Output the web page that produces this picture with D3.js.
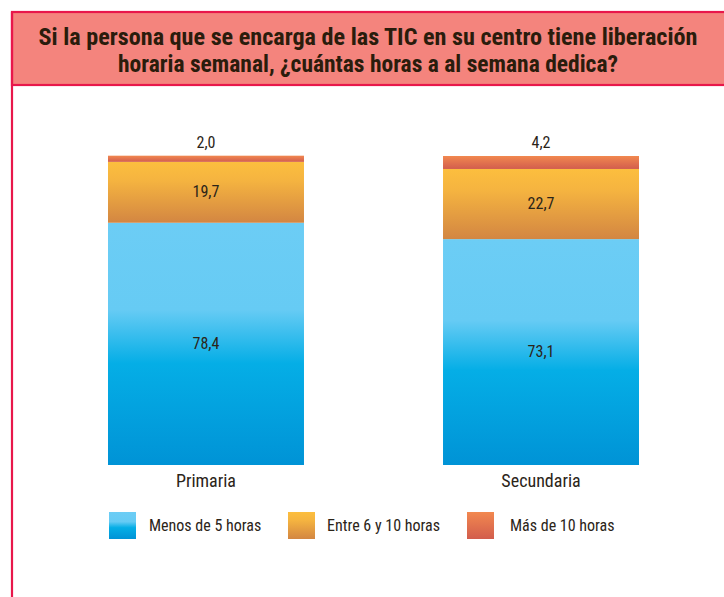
<!DOCTYPE html>
<html>
<head>
<meta charset="utf-8">
<script src="https://cdn.jsdelivr.net/npm/d3@7"></script>
<style>
  body { margin: 0; background: #fff; }
  svg text { font-family: "Liberation Sans Narrow", "Roboto Condensed", "DejaVu Sans Condensed", sans-serif; fill: #2b2418; }
</style>
</head>
<body>
<div id="grafico"></div>
<script>
// Datos
const niveles = ["Primaria", "Secundaria"];
const series = ["Menos de 5 horas", "Entre 6 y 10 horas", "Más de 10 horas"];
const menos5 = [78.4, 73.1];
const entre6y10 = [19.7, 22.7];
const mas10 = [2.0, 4.2];
const etiquetas = ["78,4", "73,1", "19,7", "22,7", "2,0", "4,2"];

const W = 724, H = 597;
const svg = d3.select("#grafico").append("svg")
    .attr("width", W).attr("height", H);

// Degradados
const defs = svg.append("defs");
const grads = [
    { id: "g0", stops: [[0, "#6ccdf5"], [0.36, "#66cbf4"], [0.58, "#05aee6"], [1, "#0093d6"]] },
    { id: "g1", stops: [[0, "#fcbe3e"], [0.3, "#f5b440"], [1, "#d38642"]] },
    { id: "g2", stops: [[0, "#f2884f"], [1, "#d25d4d"]] }
];
grads.forEach(g => {
    const lg = defs.append("linearGradient").attr("id", g.id)
        .attr("x1", 0).attr("y1", 0).attr("x2", 0).attr("y2", 1);
    g.stops.forEach(s => lg.append("stop").attr("offset", s[0]).attr("stop-color", s[1]));
});

// Marco y cabecera
svg.append("rect").attr("x", 12).attr("y", 12).attr("width", W).attr("height", 73)
    .attr("fill", "#f4847d").attr("stroke", "#e8174b").attr("stroke-width", 2.2);
svg.append("line").attr("x1", 12).attr("x2", 12).attr("y1", 12).attr("y2", H)
    .attr("stroke", "#e8174b").attr("stroke-width", 2.2);

const titulo = ["Si la persona que se encarga de las TIC en su centro tiene liberación",
                "horaria semanal, ¿cuántas horas a al semana dedica?"];
const anchos = [659, 500];
titulo.forEach((t, i) => {
    svg.append("text")
        .attr("x", 368).attr("y", 45 + i * 27)
        .attr("text-anchor", "middle")
        .attr("font-size", 23).attr("font-weight", "bold")
        .style("fill", "#2a1c0c")
        .attr("textLength", anchos[i]).attr("lengthAdjust", "spacingAndGlyphs")
        .text(t);
});

// Escalas
const x = d3.scaleBand().domain(niveles).range([108, 639]).paddingInner(0.415).paddingOuter(0);
const y = d3.scaleLinear().domain([0, 100]).range([465, 156]);

const datos = niveles.map((n, i) => ({ nivel: n, valores: [menos5[i], entre6y10[i], mas10[i]] }));
const pila = d3.stack().keys([0, 1, 2]).value((d, k) => d.valores[k])(datos);

pila.forEach((capa, k) => {
    svg.selectAll(null).data(capa).enter().append("rect")
        .attr("x", d => x(d.data.nivel))
        .attr("y", d => y(d[1]))
        .attr("width", x.bandwidth())
        .attr("height", d => y(d[0]) - y(d[1]))
        .attr("fill", `url(#g${k})`);

    svg.selectAll(null).data(capa).enter().append("text")
        .attr("x", d => x(d.data.nivel) + x.bandwidth() / 2)
        .attr("y", d => k === 2 ? y(d[1]) - 8 : (y(d[0]) + y(d[1])) / 2 + 5)
        .attr("text-anchor", "middle")
        .attr("font-size", 16)
        .text((d, i) => etiquetas[k * 2 + i]);
});

// Eje X
svg.selectAll(null).data(niveles).enter().append("text")
    .attr("x", d => x(d) + x.bandwidth() / 2)
    .attr("y", 487)
    .attr("text-anchor", "middle")
    .attr("font-size", 18)
    .text(d => d);

// Leyenda
const leyX = [109, 288, 467];
series.forEach((s, k) => {
    svg.append("rect").attr("x", leyX[k]).attr("y", 512).attr("width", 27).attr("height", 27)
        .attr("fill", `url(#g${k})`);
    svg.append("text").attr("x", leyX[k] + 40 - (k === 1 ? 1 : 0) + (k === 2 ? 3 : 0)).attr("y", 531)
        .attr("font-size", 16)
        .text(s);
});
</script>
</body>
</html>
